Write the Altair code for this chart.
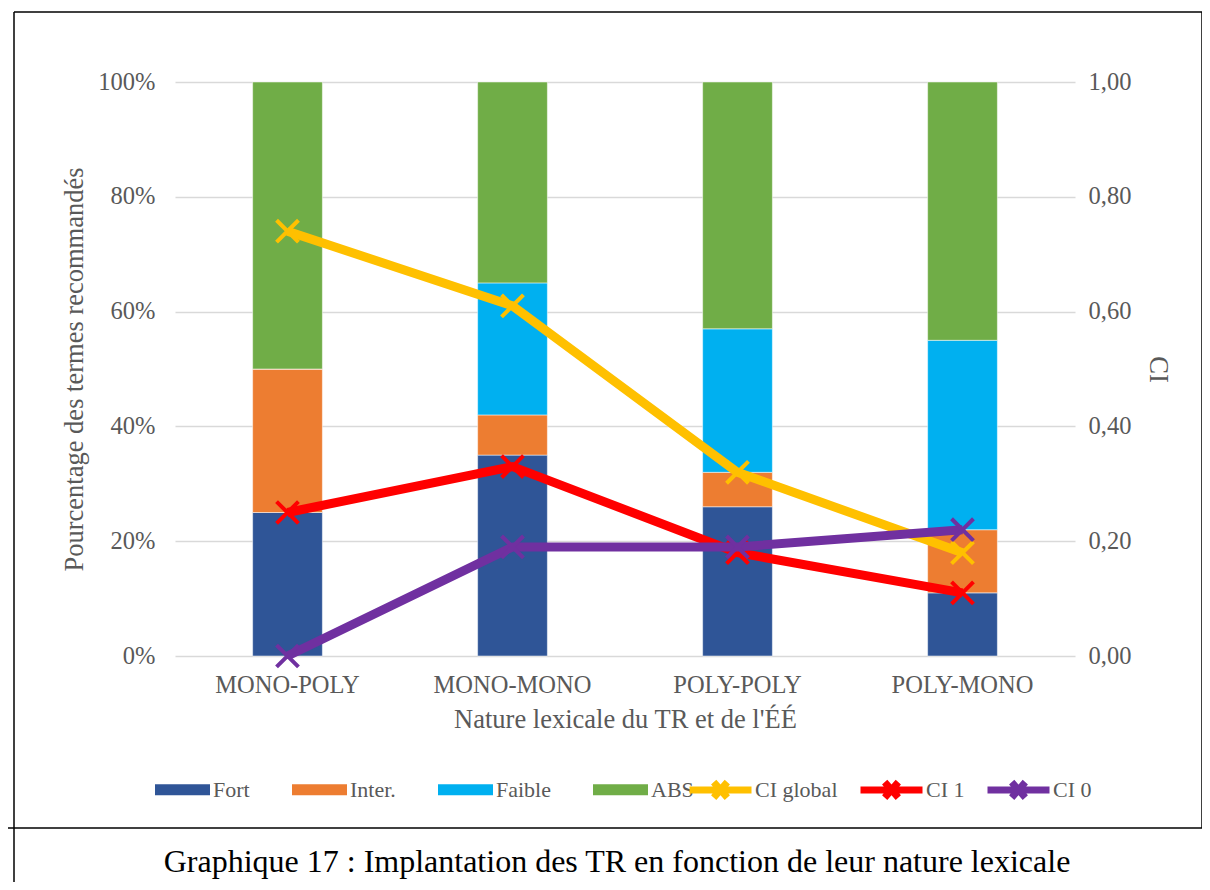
import altair as alt
import pandas as pd

categories = ["MONO-POLY", "MONO-MONO", "POLY-POLY", "POLY-MONO"]
bar_series = ["Fort", "Inter.", "Faible", "ABS"]
fort = [0.25, 0.35, 0.26, 0.11]
inter = [0.25, 0.07, 0.06, 0.11]
faible = [0.00, 0.23, 0.25, 0.33]
absent = [0.50, 0.35, 0.43, 0.45]
line_series = ["CI global", "CI 1", "CI 0"]
ci_global = [0.74, 0.61, 0.32, 0.18]
ci_1 = [0.25, 0.33, 0.18, 0.11]
ci_0 = [0.00, 0.19, 0.19, 0.22]
bar_colors = ["#2F5597", "#ED7D31", "#00B0F0", "#70AD47"]
line_colors = ["#FFC000", "#FF0000", "#7030A0"]
pct_ticks = [0, 0.2, 0.4, 0.6, 0.8, 1.0]
caption = ["Graphique 17 : Implantation des TR en fonction de leur nature lexicale"]

FONT = "Liberation Serif"
GREY = "#595959"
LABEL_SIZE = 24.5
TITLE_SIZE = 26.5
LEGEND_SIZE = 22

rows = []
for i, (name, vals) in enumerate(zip(bar_series, [fort, inter, faible, absent])):
    for c, v in zip(categories, vals):
        rows.append({"cat": c, "series": name, "order": i, "value": v})
bars_df = pd.DataFrame(rows)

lrows = []
for i, (name, vals) in enumerate(zip(line_series, [ci_global, ci_1, ci_0])):
    for c, v in zip(categories, vals):
        lrows.append({"cat": c, "series": name, "order": i, "value": v})
lines_df = pd.DataFrame(lrows)

x_enc = alt.X(
    "cat:N",
    sort=categories,
    scale=alt.Scale(paddingInner=0.69, paddingOuter=0.345),
    axis=alt.Axis(
        title="Nature lexicale du TR et de l'ÉÉ",
        labelAngle=0, labelFont=FONT, labelFontSize=LABEL_SIZE, labelColor=GREY,
        labelPadding=17, ticks=False, domain=False,
        titleFont=FONT, titleFontSize=TITLE_SIZE, titleFontWeight="normal",
        titleColor=GREY, titlePadding=10,
    ),
)

bars = alt.Chart(bars_df).mark_bar(stroke="white", strokeWidth=0.5).encode(
    x=x_enc,
    y=alt.Y(
        "value:Q", stack="zero",
        scale=alt.Scale(domain=[0, 1]),
        axis=alt.Axis(
            values=pct_ticks, format=".0%", orient="left",
            title="Pourcentage des termes recommandés",
            labelFont=FONT, labelFontSize=LABEL_SIZE, labelColor=GREY, labelPadding=20,
            ticks=False, domain=False, grid=True, gridColor="#D9D9D9", gridWidth=1.5,
            titleFont=FONT, titleFontSize=TITLE_SIZE, titleFontWeight="normal",
            titleColor=GREY, titlePadding=9,
        ),
    ),
    color=alt.Color(
        "series:N",
        scale=alt.Scale(domain=bar_series, range=bar_colors),
        legend=alt.Legend(
            orient="none", legendX=-20, legendY=680, direction="horizontal",
            title=None, symbolType="M-1,-0.2H1V0.2H-1Z", symbolSize=3025,
            symbolStrokeWidth=0, labelFont=FONT, labelFontSize=LEGEND_SIZE,
            labelColor=GREY, columnPadding=42, labelOffset=3,
        ),
    ),
    order=alt.Order("order:Q", sort="ascending"),
)

line_legend = alt.Legend(
    orient="none", legendX=511, legendY=673, direction="horizontal",
    title=None,
    symbolType="M-1,0H1M-0.22,-0.25L0.22,0.25M-0.22,0.25L0.22,-0.25",
    symbolSize=3844, symbolStrokeWidth=7,
    labelFont=FONT, labelFontSize=LEGEND_SIZE, labelColor=GREY,
    columnPadding=8, labelOffset=0,
)

y_right = alt.Y(
    "value:Q",
    scale=alt.Scale(domain=[0, 1]),
    axis=alt.Axis(
        values=pct_ticks, orient="right", title="CI",
        labelExpr="replace(format(datum.value, '.2f'), '.', ',')",
        labelFont=FONT, labelFontSize=LABEL_SIZE, labelColor=GREY, labelPadding=13,
        ticks=False, domain=False, grid=False,
        titleFont=FONT, titleFontSize=TITLE_SIZE, titleFontWeight="normal",
        titleColor=GREY, titlePadding=13,
    ),
)
stroke_enc = alt.Stroke(
    "series:N",
    scale=alt.Scale(domain=line_series, range=line_colors),
    legend=line_legend,
)

line_layers = []
for name in line_series:
    base = alt.Chart(lines_df).transform_filter(alt.datum.series == name)
    ln = base.mark_line(strokeWidth=9, strokeJoin="round").encode(
        x=x_enc, y=y_right, stroke=stroke_enc
    )
    pt = base.mark_point(
        shape="M-1,-1L1,1M-1,1L1,-1", size=480, filled=False, strokeWidth=4, opacity=1
    ).encode(x=x_enc, y=y_right, stroke=stroke_enc)
    line_layers += [ln, pt]

lines = alt.layer(*line_layers)

frame_df = pd.DataFrame({"k": [0]})
fb = alt.Chart(frame_df)
frame = alt.layer(
    fb.mark_rule(color="black", strokeWidth=1.5).encode(
        x=alt.value(-161), x2=alt.value(1027), y=alt.value(-70)),
    fb.mark_rule(color="black", strokeWidth=1.5).encode(
        x=alt.value(-161), y=alt.value(-70), y2=alt.value(820)),
    fb.mark_rule(color="black", strokeWidth=1.5).encode(
        x=alt.value(1027), y=alt.value(-70), y2=alt.value(746)),
    fb.mark_rule(color="black", strokeWidth=1.5).encode(
        x=alt.value(-170), x2=alt.value(1027), y=alt.value(746)),
)

cap = alt.Chart(pd.DataFrame({"t": caption})).mark_text(
    font=FONT, fontSize=32, color="black", align="center", baseline="middle"
).encode(text="t:N", x=alt.value(442), y=alt.value(780))

chart = (
    alt.layer(bars, lines, frame, cap)
    .resolve_scale(y="independent")
    .properties(
        width=900, height=574,
        autosize=alt.AutoSizeParams(type="none"),
        padding={"left": 167, "top": 74, "right": 127, "bottom": 226},
        background="white",
    )
    .configure_view(stroke=None)
)

chart.save("out.html", embed_options={"renderer": "svg", "actions": False})
